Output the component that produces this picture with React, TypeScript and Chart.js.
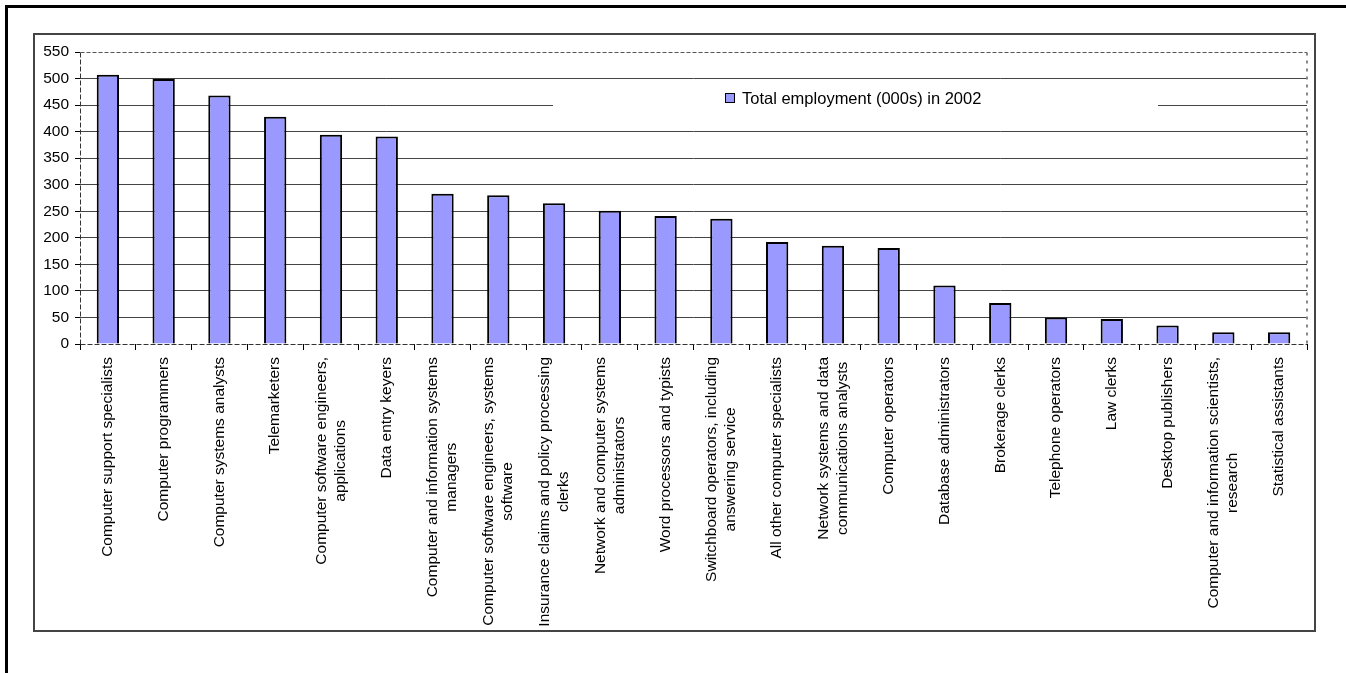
import React, { useEffect, useRef } from "react";
import { Chart, registerables } from "chart.js";

Chart.register(...registerables);

const CATEGORIES: (string | string[])[] = [
  "Computer support specialists",
  "Computer programmers",
  "Computer systems analysts",
  "Telemarketers",
  ["Computer software engineers,", "applications"],
  "Data entry keyers",
  ["Computer and information systems", "managers"],
  ["Computer software engineers, systems", "software"],
  ["Insurance claims and policy processing", "clerks"],
  ["Network and computer systems", "administrators"],
  "Word processors and typists",
  ["Switchboard operators, including", "answering service"],
  "All other computer specialists",
  ["Network systems and data", "communications analysts"],
  "Computer operators",
  "Database administrators",
  "Brokerage clerks",
  "Telephone operators",
  "Law clerks",
  "Desktop publishers",
  ["Computer and information scientists,", "research"],
  "Statistical assistants",
];

const EMPLOYMENT_2002: number[] = [
  507, 499, 468, 428, 394, 391, 283, 280, 265, 251, 241, 236, 192, 185, 181,
  110, 77, 50, 47, 35, 22, 22,
];

const SERIES_LABEL = "Total employment (000s) in 2002";
const Y_MIN = 0;
const Y_MAX = 550;
const Y_STEP = 50;

const FONT_FAMILY = '"Liberation Sans", Arial, Helvetica, sans-serif';
const TICK_FONT_SIZE = 15.5;
const LEGEND_FONT_SIZE = 16.5;
const LINE_H = 19;
const BAR_COLOR = "#9999FF";

const xLabelPlugin = {
  id: "xLabels",
  afterDraw(chart: any) {
    const ctx = chart.ctx;
    const xs = chart.scales.x;
    ctx.save();
    ctx.font = `${TICK_FONT_SIZE}px ${FONT_FAMILY}`;
    ctx.fillStyle = "#000";
    ctx.textAlign = "center";
    ctx.textBaseline = "middle";
    CATEGORIES.forEach((lab, i) => {
      const lines = Array.isArray(lab) ? lab : [lab];
      const x = xs.getPixelForValue(i);
      const y = xs.top + 13;
      const w = Math.max(...lines.map((l) => ctx.measureText(l).width));
      ctx.save();
      ctx.translate(x, y);
      ctx.rotate(-Math.PI / 2);
      lines.forEach((l, k) => {
        ctx.fillText(l, -w / 2, (k - (lines.length - 1) / 2) * LINE_H);
      });
      ctx.restore();
    });
    ctx.restore();
  },
};

const frameLegendPlugin = {
  id: "frameLegend",
  afterDatasetsDraw(chart: any) {
    const ctx = chart.ctx;
    const ca = chart.chartArea;
    const L = Math.round(ca.left) + 0.5;
    const R = Math.round(ca.right);
    const T = Math.round(ca.top) + 0.5;
    const B = Math.round(ca.bottom) + 0.5;
    const line = (
      x1: number,
      y1: number,
      x2: number,
      y2: number,
      color: string,
      width: number,
      dash: number[]
    ) => {
      ctx.save();
      ctx.strokeStyle = color;
      ctx.lineWidth = width;
      ctx.setLineDash(dash);
      ctx.beginPath();
      ctx.moveTo(x1, y1);
      ctx.lineTo(x2, y2);
      ctx.stroke();
      ctx.restore();
    };
    line(L, T, R, T, "#555", 1, [4, 2]);
    line(R, T, R, B, "#888", 2, [3, 5]);
    line(L, T, L, B, "#333", 1, [5, 2]);
    line(L, B, R, B, "#333", 1, [5, 2]);

    const bx1 = ca.left + 473;
    const bx2 = ca.left + 1078;
    const by1 = ca.top + 33;
    const by2 = ca.top + 66;
    ctx.save();
    ctx.fillStyle = "#fff";
    ctx.fillRect(bx1, by1, bx2 - bx1, by2 - by1);
    const sx = Math.round(ca.left + 645) + 0.5;
    const sy = Math.round(ca.top + 41) + 0.5;
    ctx.fillStyle = BAR_COLOR;
    ctx.fillRect(sx, sy, 9, 9);
    ctx.strokeStyle = "#000";
    ctx.lineWidth = 1;
    ctx.strokeRect(sx, sy, 9, 9);
    ctx.fillStyle = "#000";
    ctx.font = `${LEGEND_FONT_SIZE}px ${FONT_FAMILY}`;
    ctx.textAlign = "left";
    ctx.textBaseline = "alphabetic";
    ctx.fillText(SERIES_LABEL, ca.left + 662, ca.top + 52);
    ctx.restore();
  },
};

export default function App() {
  const canvasRef = useRef<HTMLCanvasElement | null>(null);

  useEffect(() => {
    const canvas = canvasRef.current;
    if (!canvas) return;
    const chart = new Chart(canvas, {
      type: "bar",
      data: {
        labels: CATEGORIES.map((c) => (Array.isArray(c) ? c.join(" ") : c)),
        datasets: [
          {
            label: SERIES_LABEL,
            data: EMPLOYMENT_2002,
            backgroundColor: BAR_COLOR,
            borderColor: "#000",
            borderWidth: 2,
            borderSkipped: "bottom",
            categoryPercentage: 1,
            barPercentage: 0.4,
          },
        ],
      },
      options: {
        responsive: false,
        maintainAspectRatio: false,
        animation: false,
        devicePixelRatio: 1,
        layout: { padding: { top: 17, right: 7, left: 0, bottom: 0 } },
        plugins: {
          legend: { display: false },
          tooltip: { enabled: false },
          title: { display: false },
        },
        scales: {
          x: {
            offset: true,
            border: { display: false },
            grid: {
              offset: true,
              drawOnChartArea: false,
              drawTicks: true,
              tickLength: 6,
              tickColor: "#000",
              color: "#000",
            },
            ticks: { display: false },
            afterFit: (scale: any) => {
              scale.height = 286;
            },
          },
          y: {
            min: Y_MIN,
            max: Y_MAX,
            border: { display: false },
            grid: {
              color: (c: any) =>
                c.tick && (c.tick.value === Y_MIN || c.tick.value === Y_MAX)
                  ? "rgba(0,0,0,0)"
                  : "#444",
              tickColor: "#000",
              tickLength: 5,
              lineWidth: 1,
            },
            ticks: {
              stepSize: Y_STEP,
              color: "#000",
              padding: 6,
              font: { family: FONT_FAMILY, size: TICK_FONT_SIZE },
            },
            afterFit: (scale: any) => {
              scale.width = 45;
            },
          },
        },
      },
      plugins: [frameLegendPlugin, xLabelPlugin],
    });
    return () => chart.destroy();
  }, []);

  return (
    <div
      style={{
        position: "fixed",
        left: 0,
        top: 0,
        width: 1346,
        height: 673,
        background: "#fff",
        overflow: "hidden",
      }}
    >
      <div
        style={{
          position: "absolute",
          left: 5,
          top: 5,
          width: 1341,
          height: 668,
          boxSizing: "border-box",
          borderLeft: "3px solid #000",
          borderTop: "3px solid #000",
        }}
      />
      <div
        style={{
          position: "absolute",
          left: 33,
          top: 33,
          width: 1283,
          height: 599,
          boxSizing: "border-box",
          border: "2px solid #444",
        }}
      >
        <canvas
          ref={canvasRef}
          width={1279}
          height={595}
          style={{ display: "block" }}
        />
      </div>
    </div>
  );
}
